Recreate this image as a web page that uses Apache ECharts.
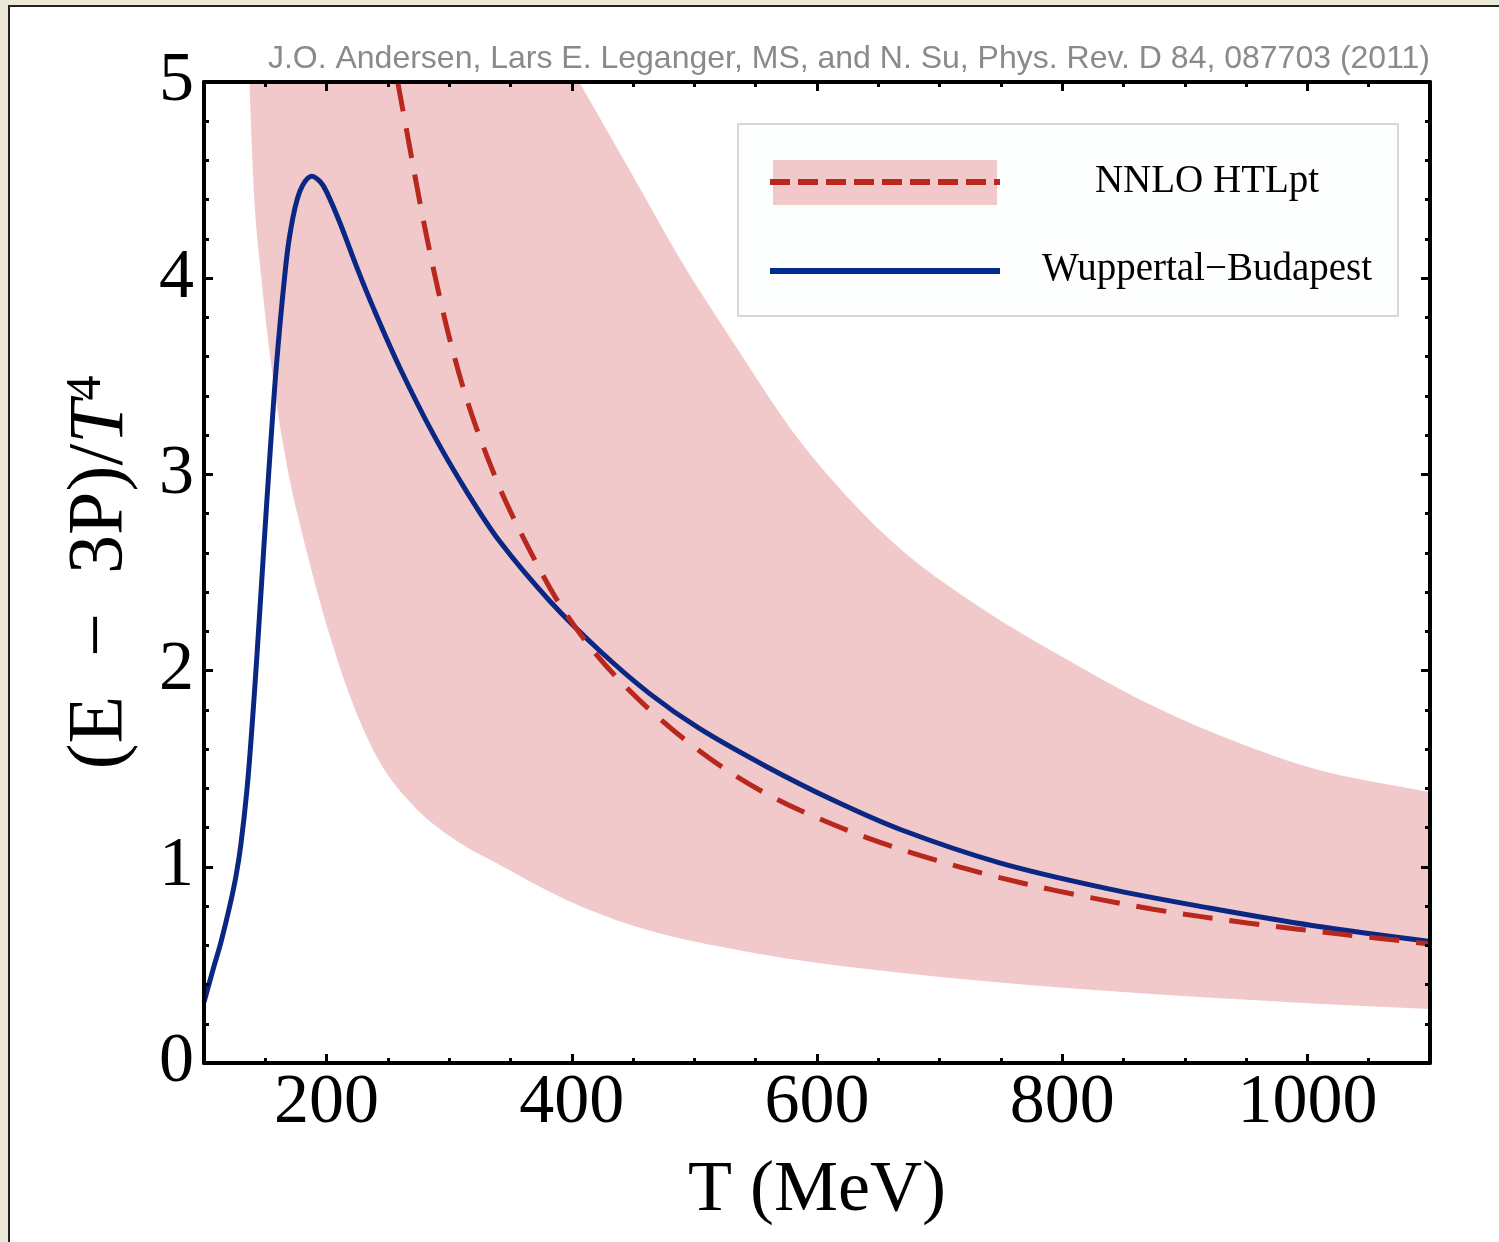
<!DOCTYPE html>
<html><head><meta charset="utf-8">
<script src="https://cdn.jsdelivr.net/npm/echarts@6/dist/echarts.min.js"></script>
<style>
html,body{margin:0;padding:0;background:#ECE9D8;width:1499px;height:1242px;overflow:hidden}
#frame{position:absolute;left:8px;top:5px;right:0;bottom:0;background:#fff;border-left:2px solid #222;border-top:2px solid #222}
#chart{position:absolute;left:0;top:0;width:1499px;height:1242px}
</style></head><body><div id="frame"></div><div id="chart"></div>
<script>
// ---- data ----
const xTicks = [200, 400, 600, 800, 1000];
const yTicks = [0, 1, 2, 3, 4, 5];

// Wuppertal-Budapest lattice curve
const wbT = [100,104,108,114,121,126,130,135,139,143,147,151,155,159,165,170,178,188,195,200,211,225,238,260,287,314,341,382,423,464,504,559,613,668,749,836,920,1005,1100];
const wbV = [0.31,0.40,0.49,0.62,0.80,0.95,1.11,1.39,1.70,2.06,2.45,2.84,3.21,3.55,3.96,4.22,4.44,4.52,4.49,4.44,4.28,4.05,3.85,3.54,3.205,2.915,2.66,2.355,2.10,1.88,1.705,1.51,1.34,1.19,1.02,0.89,0.79,0.70,0.62];

// NNLO HTLpt central curve
const htlT = [258,268,276,284,292,300,311,322,338,350,371,390,415,442,469,499,532,567,602,640,678,716,749,794,873,951,1030,1100];
const htlV = [5.0,4.66,4.39,4.14,3.91,3.70,3.45,3.24,2.98,2.81,2.55,2.34,2.12,1.93,1.77,1.615,1.47,1.345,1.245,1.15,1.07,1.0,0.945,0.88,0.785,0.714,0.655,0.607];

// NNLO HTLpt band edges (upper edge leaves the top of the frame at T=406, lower edge at T=137)
const bandUpT = [406,450,491,532,586,624,668,724,800,864,949,1000,1100];
const bandUpV = [5.0,4.52,4.07,3.67,3.17,2.89,2.62,2.36,2.07,1.85,1.62,1.51,1.38];
const bandLoT = [137,140.2,147,156.5,170,180,189,203,219,241,271,303,341,396,450,532,613,668,749,864,1000,1100];
const bandLoV = [5.0,4.5,3.99,3.48,2.97,2.70,2.48,2.17,1.87,1.56,1.31,1.145,1.01,0.83,0.70,0.58,0.50,0.46,0.41,0.355,0.305,0.275];

const seriesNames = ['NNLO HTLpt', 'Wuppertal\u2212Budapest'];
const citation = 'J.O. Andersen, Lars E. Leganger, MS, and N. Su, Phys. Rev. D 84, 087703 (2011)';

// ---- helpers ----
const zip = (a, b) => a.map((t, i) => [t, b[i]]);
const SERIF = '"Liberation Serif", "Times New Roman", serif';
const BLUE = '#0a2783', RED = '#b8281f', PINK = '#f2c9cb';

// monotone cubic Hermite through pixel points (x increasing) -> bezier segments
function hermiteSegs(p) {
  const n = p.length, d = [], s = [];
  for (let i = 0; i < n - 1; i++) d.push((p[i+1][1] - p[i][1]) / (p[i+1][0] - p[i][0]));
  for (let i = 0; i < n; i++) {
    if (i === 0) s.push(d[0]);
    else if (i === n - 1) s.push(d[n-2]);
    else {
      const h0 = p[i][0] - p[i-1][0], h1 = p[i+1][0] - p[i][0];
      let m = (d[i-1] * h1 + d[i] * h0) / (h0 + h1);
      if (d[i-1] * d[i] <= 0) m = 0;
      else { const lim = 3 * Math.min(Math.abs(d[i-1]), Math.abs(d[i])); if (Math.abs(m) > lim) m = Math.sign(m) * lim; }
      s.push(m);
    }
  }
  const segs = [];
  for (let i = 0; i < n - 1; i++) {
    const h = (p[i+1][0] - p[i][0]) / 3;
    segs.push([p[i], [p[i][0] + h, p[i][1] + s[i] * h], [p[i+1][0] - h, p[i+1][1] - s[i+1] * h], p[i+1]]);
  }
  return segs;
}
const f = v => v.toFixed(2);

function bandRender(params, api) {
  const up = bandUpT.map((t, i) => api.coord([t, bandUpV[i]]));
  const lo = bandLoT.map((t, i) => api.coord([t, bandLoV[i]]));
  let d = 'M' + f(lo[0][0]) + ' ' + f(lo[0][1]) + ' L' + f(up[0][0]) + ' ' + f(up[0][1]);
  hermiteSegs(up).forEach(s => { d += ' C' + [s[1], s[2], s[3]].map(q => f(q[0]) + ' ' + f(q[1])).join(' '); });
  d += ' L' + f(lo[lo.length-1][0]) + ' ' + f(lo[lo.length-1][1]);
  hermiteSegs(lo).reverse().forEach(s => { d += ' C' + [s[2], s[1], s[0]].map(q => f(q[0]) + ' ' + f(q[1])).join(' '); });
  d += ' Z';
  const cs = params.coordSys;
  return {type: 'path', shape: {pathData: d}, style: {fill: PINK, stroke: null},
          clipPath: {type: 'rect', shape: {x: cs.x, y: cs.y, width: cs.width, height: cs.height}}};
}

// ---- axes ----
const tickStyle = {color: '#000', width: 3};
function xAx(pos, major, main) {
  return {
    type: 'value', position: pos, min: 100, max: 1100, z: 10,
    interval: major ? undefined : 50,
    axisLine: {show: !major, onZero: false, lineStyle: {color: '#000', width: 4}},
    axisTick: major ? {show: true, inside: true, length: 9, customValues: xTicks, lineStyle: tickStyle}
                    : {show: true, inside: true, length: 5, lineStyle: tickStyle},
    axisLabel: main ? {show: true, margin: 6, color: '#000', fontFamily: SERIF, fontSize: 70,
                       formatter: v => xTicks.includes(v) ? String(v) : ''} : {show: false},
    splitLine: {show: false},
    name: main ? 'T (MeV)' : '', nameLocation: 'middle', nameGap: 92,
    nameTextStyle: {color: '#000', fontFamily: SERIF, fontSize: 72}
  };
}
function yAx(pos, main) {
  return {
    type: 'value', position: pos, min: 0, max: 5, interval: 1, z: 10,
    axisLine: {show: true, onZero: false, lineStyle: {color: '#000', width: 4}},
    axisTick: {show: true, inside: true, length: 9, lineStyle: tickStyle},
    minorTick: {show: true, splitNumber: 5, length: 5, lineStyle: tickStyle},
    axisLabel: main ? {show: true, margin: 10, color: '#000', fontFamily: SERIF, fontSize: 70,
                       formatter: v => yTicks.includes(v) ? String(v) : ''} : {show: false},
    splitLine: {show: false}, minorSplitLine: {show: false},
    name: main ? '{a|(E\u2002\u2212\u20023P)/}{b|T}{c|4}' : '', nameLocation: 'middle', nameGap: 64,
    nameTextStyle: {color: '#000', fontFamily: SERIF, fontSize: 78,
      rich: {a: {fontFamily: SERIF, fontSize: 78, color: '#000'},
             b: {fontFamily: SERIF, fontSize: 78, fontStyle: 'italic', color: '#000'},
             c: {fontFamily: SERIF, fontSize: 50, color: '#000', verticalAlign: 'top'}}}
  };
}

const chart = echarts.init(document.getElementById('chart'), null, {renderer: 'canvas'});
chart.setOption({
  backgroundColor: 'transparent',
  animation: false,
  grid: {left: 204, right: 69, top: 82, bottom: 179, containLabel: false},
  xAxis: [xAx('bottom', false, true), xAx('bottom', true, false), xAx('top', false, false), xAx('top', true, false)],
  yAxis: [yAx('left', true), yAx('right', false)],
  series: [
    {name: seriesNames[0] + ' band', type: 'custom', renderItem: bandRender, data: [[bandUpT[0], bandUpV[0]]],
     silent: true, z: 1},
    {name: seriesNames[1], type: 'line', data: zip(wbT, wbV), smooth: 0.35,
     showSymbol: false, z: 3, lineStyle: {color: BLUE, width: 5}},
    {name: seriesNames[0], type: 'line', data: zip(htlT, htlV), smooth: 0.35,
     showSymbol: false, z: 4, lineStyle: {color: RED, width: 5, type: [30, 17]}}
  ],
  graphic: [
    {type: 'text', x: 1430, y: 59, z: 100, style: {text: citation, fill: '#8a8a8a',
      font: '32px "Liberation Sans", Arial, sans-serif', textAlign: 'right', textVerticalAlign: 'middle'}},
    {type: 'rect', z: 100, shape: {x: 738, y: 124, width: 660, height: 192},
      style: {fill: '#fdfefe', stroke: '#cccccc', lineWidth: 1.5}},
    {type: 'rect', z: 101, shape: {x: 773, y: 160, width: 224, height: 45}, style: {fill: PINK}},
    {type: 'line', z: 102, shape: {x1: 770, y1: 182, x2: 1000, y2: 182},
      style: {stroke: RED, lineWidth: 6, lineDash: [20, 8]}},
    {type: 'line', z: 102, shape: {x1: 770, y1: 271, x2: 1000, y2: 271},
      style: {stroke: '#002b8f', lineWidth: 6}},
    {type: 'text', x: 1207, y: 182, z: 102, style: {text: seriesNames[0], fill: '#000',
      font: '39px ' + SERIF, textAlign: 'center', textVerticalAlign: 'middle'}},
    {type: 'text', x: 1207, y: 270, z: 102, style: {text: seriesNames[1], fill: '#000',
      font: '39px ' + SERIF, textAlign: 'center', textVerticalAlign: 'middle'}}
  ]
});
</script></body></html>
